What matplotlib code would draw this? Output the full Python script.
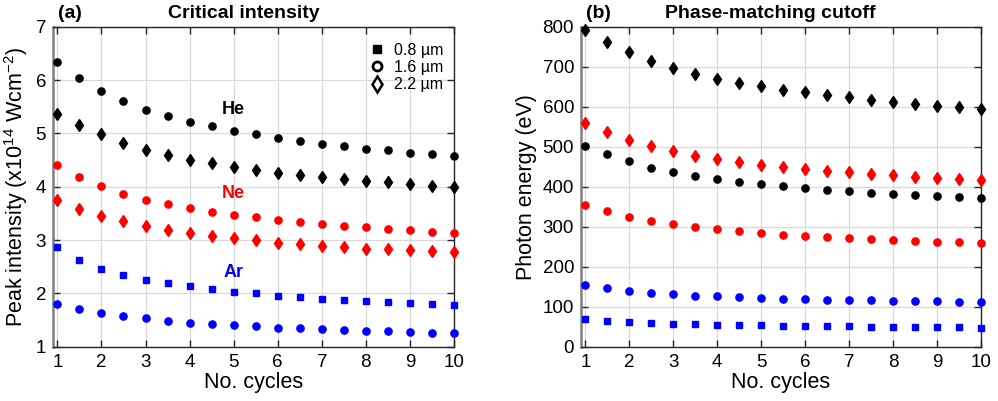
import matplotlib
matplotlib.use("Agg")
import matplotlib.pyplot as plt
from matplotlib.lines import Line2D
import numpy as np

plt.rcParams["font.family"] = ["Liberation Sans", "DejaVu Sans"]
plt.rcParams["mathtext.default"] = "regular"

cycles = np.arange(1, 10.5, 0.5)

# (a) critical intensity, 10^14 W/cm^2
he_int_16 = [6.33, 6.04, 5.80, 5.60, 5.44, 5.32, 5.21, 5.13, 5.04, 4.98,
             4.92, 4.86, 4.81, 4.76, 4.71, 4.68, 4.64, 4.61, 4.58]
he_int_22 = [5.36, 5.15, 4.98, 4.82, 4.69, 4.59, 4.50, 4.44, 4.37, 4.31,
             4.26, 4.22, 4.18, 4.14, 4.10, 4.08, 4.05, 4.02, 3.99]
ne_int_16 = [4.41, 4.19, 4.01, 3.87, 3.76, 3.67, 3.60, 3.53, 3.47, 3.43,
             3.38, 3.34, 3.31, 3.27, 3.24, 3.21, 3.18, 3.16, 3.14]
ne_int_22 = [3.76, 3.59, 3.46, 3.36, 3.26, 3.19, 3.14, 3.08, 3.03, 3.00,
             2.95, 2.92, 2.89, 2.87, 2.84, 2.83, 2.81, 2.79, 2.77]
ar_int_08 = [2.87, 2.63, 2.46, 2.34, 2.26, 2.19, 2.13, 2.08, 2.03, 2.00,
             1.96, 1.93, 1.90, 1.88, 1.86, 1.84, 1.82, 1.80, 1.78]
ar_int_16 = [1.81, 1.71, 1.63, 1.57, 1.53, 1.49, 1.45, 1.43, 1.40, 1.38,
             1.36, 1.35, 1.33, 1.32, 1.30, 1.29, 1.28, 1.26, 1.26]

# (b) phase-matching cutoff, eV
he_cut_22 = [793, 763, 737, 715, 697, 682, 670, 660, 651, 643,
             636, 629, 624, 618, 612, 608, 603, 599, 595]
he_cut_16 = [503, 481, 464, 448, 436, 427, 419, 413, 407, 401,
             396, 392, 389, 385, 382, 379, 376, 374, 372]
ne_cut_22 = [560, 538, 518, 502, 489, 478, 469, 462, 455, 450,
             444, 440, 436, 432, 429, 425, 422, 419, 416]
ne_cut_16 = [354, 339, 325, 315, 306, 299, 294, 289, 284, 280,
             278, 274, 272, 269, 267, 264, 263, 261, 259]
ar_cut_16 = [154, 146, 140, 134, 131, 128, 126, 124, 122, 120,
             119, 118, 117, 116, 115, 114, 114, 112, 111]
ar_cut_08 = [70, 65, 62, 59, 58, 56, 55, 54, 54, 53,
             52, 51, 51, 50, 50, 49, 49, 49, 48]

RED = "#ff0000"
BLUE = "#0000ff"
MARK = {"0.8": dict(marker="s", ms=4.0), "1.6": dict(marker="o", ms=5.2),
        "2.2": dict(marker="d", ms=6.6)}


def style(ax, ylim, yticks):
    ax.set_xlim(0.9, 10)
    ax.set_ylim(*ylim)
    ax.set_xticks(range(1, 11))
    ax.set_yticks(yticks)
    ax.grid(True, color="#d9d9d9", lw=0.9)
    ax.set_axisbelow(True)
    ax.tick_params(direction="in", top=True, right=True, labelsize=13.5,
                   length=5, width=1, color="#262626", pad=5)
    for s in ax.spines.values():
        s.set_color("#262626")
        s.set_linewidth(1.0)
    ax.spines["left"].set_color("#808080")
    ax.spines["left"].set_linewidth(1.8)
    ax.set_xlabel("No. cycles", fontsize=15.5, labelpad=1)


def pts(ax, y, color, key):
    ax.plot(cycles, y, ls="none", color=color, mec=color, clip_on=False, zorder=3, **MARK[key])


fig = plt.figure(figsize=(9.98, 4.01), dpi=100)
ax1 = fig.add_axes([0.0531, 0.1354, 0.4018, 0.798])
ax2 = fig.add_axes([0.5822, 0.1354, 0.4008, 0.798])

pts(ax1, he_int_16, "black", "1.6")
pts(ax1, he_int_22, "black", "2.2")
pts(ax1, ne_int_16, RED, "1.6")
pts(ax1, ne_int_22, RED, "2.2")
pts(ax1, ar_int_08, BLUE, "0.8")
pts(ax1, ar_int_16, BLUE, "1.6")
style(ax1, (1, 7), range(1, 8))
ax1.set_ylabel("Peak intensity (x10$^{14}$ Wcm$^{-2}$)", fontsize=15.5, labelpad=4)
ax1.text(5, 5.44, "He", color="black", fontsize=13, fontweight="bold", ha="center", va="center")
ax1.text(5, 3.88, "Ne", color=RED, fontsize=13, fontweight="bold", ha="center", va="center")
ax1.text(5, 2.40, "Ar", color=BLUE, fontsize=13, fontweight="bold", ha="center", va="center")

handles = [
    Line2D([], [], ls="none", marker="s", ms=6, color="black"),
    Line2D([], [], ls="none", marker="o", ms=6.5, mfc="white", mec="black", mew=2.0),
    Line2D([], [], ls="none", marker="d", ms=8, mfc="white", mec="black", mew=1.8),
]
ax1.legend(handles, ["0.8 µm", "1.6 µm", "2.2 µm"], loc="upper left",
           bbox_to_anchor=(0.76, 0.985), frameon=False, fontsize=11.5,
           handlelength=1.0, handletextpad=0.6, labelspacing=0.15, borderpad=0.2)

pts(ax2, he_cut_22, "black", "2.2")
pts(ax2, he_cut_16, "black", "1.6")
pts(ax2, ne_cut_22, RED, "2.2")
pts(ax2, ne_cut_16, RED, "1.6")
pts(ax2, ar_cut_16, BLUE, "1.6")
pts(ax2, ar_cut_08, BLUE, "0.8")
style(ax2, (0, 800), range(0, 900, 100))
ax2.set_ylabel("Photon energy (eV)", fontsize=15.5, labelpad=4)

fig.text(58 / 998, 1 - 14 / 401, "(a)", fontsize=14, fontweight="bold", ha="left", va="center")
fig.text(244 / 998, 1 - 14 / 401, "Critical intensity", fontsize=14, fontweight="bold", ha="center", va="center")
fig.text(586 / 998, 1 - 14 / 401, "(b)", fontsize=14, fontweight="bold", ha="left", va="center")
fig.text(770 / 998, 1 - 14 / 401, "Phase-matching cutoff", fontsize=14, fontweight="bold", ha="center", va="center")

fig.savefig("out.png", dpi=100)
